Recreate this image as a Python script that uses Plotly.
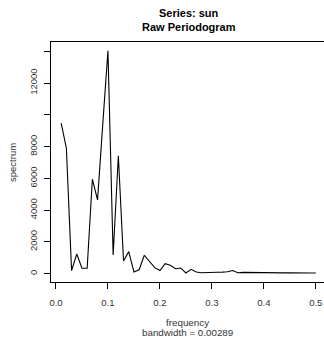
import plotly.graph_objects as go

frequency = [round(0.01 * k, 2) for k in range(1, 51)]
spectrum = [
    9480, 7900, 190, 1240, 340, 340, 5950, 4645, 9400, 14030,
    1180, 7420, 800, 1390, 110, 250, 1160, 740, 380, 200,
    630, 530, 315, 360, 45, 277, 107, 63, 63, 50,
    88, 100, 120, 200, 63, 85, 80, 40, 35, 45,
    40, 38, 42, 50, 55, 60, 75, 55, 45, 40,
]
y_tickvals = [0, 2000, 4000, 6000, 8000, 10000, 12000, 14000]
y_ticktext = ["0", "2000", "4000", "6000", "8000", "", "12000", ""]
x_tickvals = [0.0, 0.1, 0.2, 0.3, 0.4, 0.5]
x_ticktext = ["0.0", "0.1", "0.2", "0.3", "0.4", "0.5"]

FONT = "Liberation Sans, Arial, Helvetica, sans-serif"

fig = go.Figure()
fig.add_trace(go.Scatter(x=frequency, y=spectrum, mode="lines",
                         line=dict(color="black", width=1.1),
                         hoverinfo="skip", showlegend=False))

fig.update_layout(
    width=324, height=338,
    margin=dict(l=51, r=0, t=42, b=56, pad=0),
    paper_bgcolor="white", plot_bgcolor="white",
    font=dict(family=FONT, size=9.5, color="#222"),
    xaxis=dict(range=[-0.0096, 0.5158], tickvals=x_tickvals, ticktext=x_ticktext,
               showgrid=False, zeroline=False, showline=True, mirror=True,
               linecolor="black", linewidth=1, ticks="outside", ticklen=6,
               tickcolor="black", tickwidth=1, tickfont=dict(size=9.5, color="#333"),
               ticklabelstandoff=6),
    yaxis=dict(range=[-523, 14585], tickvals=y_tickvals, ticktext=y_ticktext,
               showgrid=False, zeroline=False, showline=True, mirror=False,
               linecolor="black", linewidth=1, ticks="outside", ticklen=6,
               tickcolor="black", tickwidth=1, tickangle=-90,
               tickfont=dict(size=9.5, color="#333"), ticklabelstandoff=3),
    annotations=[
        dict(text="<b>Series: sun</b>", x=0.504, y=1.122, xref="paper", yref="paper",
             showarrow=False, xanchor="center", yanchor="middle",
             font=dict(size=11, color="black", family=FONT)),
        dict(text="<b>Raw Periodogram</b>", x=0.504, y=1.064, xref="paper", yref="paper",
             showarrow=False, xanchor="center", yanchor="middle",
             font=dict(size=11, color="black", family=FONT)),
        dict(text="frequency", x=0.5, y=-0.1675, xref="paper", yref="paper",
             showarrow=False, xanchor="center", yanchor="middle",
             font=dict(size=9.8, color="#333", family=FONT)),
        dict(text="bandwidth = 0.00289", x=0.5, y=-0.2115, xref="paper", yref="paper",
             showarrow=False, xanchor="center", yanchor="middle",
             font=dict(size=9.8, color="#333", family=FONT)),
        dict(text="spectrum", x=-0.1429, y=0.5, xref="paper", yref="paper",
             showarrow=False, xanchor="center", yanchor="middle", textangle=-90,
             font=dict(size=9.5, color="#333", family=FONT)),
    ],
)

fig.write_html("out.html")
